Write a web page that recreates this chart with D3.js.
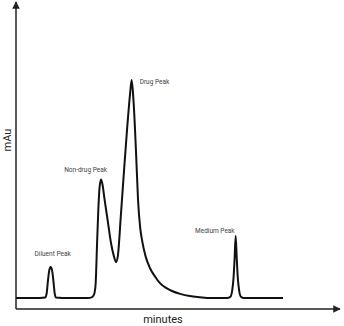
<!DOCTYPE html>
<html>
<head>
<meta charset="utf-8">
<script src="https://cdn.jsdelivr.net/npm/d3@7/dist/d3.min.js"></script>
<style>
  html, body { margin: 0; padding: 0; background: #fff; }
  svg { display: block; }
  text { font-family: Roboto, "Noto Sans", sans-serif; }
</style>
</head>
<body>
<svg id="chart" width="344" height="326"></svg>
<script>
// Chromatogram trace: retention time (min) and detector response (mAu)
const times = [0, 2.22, 2.69, 2.84, 2.95, 3.08, 3.21, 3.34, 3.47, 3.58, 3.70, 4.26,
  6.67, 7.0, 7.16, 7.28, 7.38, 7.5, 7.62, 7.73, 7.87, 8.0, 8.2, 8.5, 8.8, 9.07, 9.26,
  9.44, 9.7, 10.0, 10.3, 10.56, 10.71, 10.88, 11.11, 11.3, 11.5, 11.67, 12.0, 12.4,
  12.9, 13.33, 13.9, 14.44, 15.2, 16.1, 17.0, 18.0, 19.55, 19.85, 20.02, 20.14, 20.24,
  20.34, 20.44, 20.54, 20.66, 20.83, 21.1, 24.72];
const response = [0, 0, 0.2, 2.2, 7.5, 12.6, 14.1, 12.6, 7.5, 2.2, 0.2, 0,
  0, 0.3, 1.0, 2.6, 7, 24, 40, 50, 54, 52, 45, 35, 25, 19, 16.4,
  19.6, 37, 58, 78, 93, 99.4, 90, 67, 44.7, 32, 26.4, 19, 13.7,
  9.6, 6.8, 4.6, 3.2, 1.9, 0.9, 0.4, 0, 0, 0.6, 3.5, 9, 18,
  28.3, 18, 9, 3.5, 0.6, 0, 0];

// Named peaks: apex time and height
const peakNames = ["Diluent Peak", "Non-drug Peak", "Drug Peak", "Medium Peak"];
const peakTimes = [3.21, 7.87, 10.71, 20.34];
const peakHeights = [14.1, 54, 99.4, 28.3];

const xLabel = "minutes";
const yLabel = "mAu";

const svg = d3.select("#chart");

const x = d3.scaleLinear().domain([0, 30]).range([16, 340]);
const y = d3.scaleLinear().domain([-5, 135]).range([309, 2]);

// Arrowhead marker for the axes
svg.append("defs").append("marker")
  .attr("id", "arrow")
  .attr("viewBox", "0 0 10 10")
  .attr("refX", 9).attr("refY", 5)
  .attr("markerWidth", 5).attr("markerHeight", 5)
  .attr("markerUnits", "strokeWidth")
  .attr("orient", "auto")
  .append("path")
  .attr("d", "M0,0 L10,5 L0,10 Z")
  .attr("fill", "#222");

// Axes: plain lines with arrowheads, no ticks
const x0 = x.range()[0];
const yBottom = y.range()[0];
svg.append("line")
  .attr("x1", x0).attr("y1", yBottom)
  .attr("x2", x.range()[1]).attr("y2", yBottom)
  .attr("stroke", "#222").attr("stroke-width", 1.5)
  .attr("marker-end", "url(#arrow)");
svg.append("line")
  .attr("x1", x0).attr("y1", yBottom)
  .attr("x2", x0).attr("y2", y.range()[1])
  .attr("stroke", "#222").attr("stroke-width", 1.5)
  .attr("marker-end", "url(#arrow)");

// Signal trace
const trace = times.map((t, i) => [t, response[i]]);
svg.append("path")
  .datum(trace)
  .attr("fill", "none")
  .attr("stroke", "#111")
  .attr("stroke-width", 2)
  .attr("stroke-linejoin", "round")
  .attr("d", d3.line()
    .x(d => x(d[0]))
    .y(d => y(d[1]))
    .curve(d3.curveMonotoneX));

// Peak annotations
const labelPlacement = [
  { anchor: "middle", dx: 2, dy: -11 },
  { anchor: "end", dx: 6, dy: -8 },
  { anchor: "start", dx: 8, dy: 4 },
  { anchor: "end", dx: -1, dy: -3 }
];
svg.append("g").selectAll("text")
  .data(peakNames)
  .join("text")
  .attr("x", (d, i) => x(peakTimes[i]) + labelPlacement[i].dx)
  .attr("y", (d, i) => y(peakHeights[i]) + labelPlacement[i].dy)
  .attr("text-anchor", (d, i) => labelPlacement[i].anchor)
  .attr("font-size", 6.5)
  .attr("fill", "#444")
  .text(d => d);

// Axis titles
svg.append("text")
  .attr("x", 163).attr("y", 323)
  .attr("text-anchor", "middle")
  .attr("font-size", 11)
  .attr("fill", "#222")
  .text(xLabel);
svg.append("text")
  .attr("transform", "translate(11,140) rotate(-90)")
  .attr("text-anchor", "middle")
  .attr("font-size", 11)
  .attr("fill", "#222")
  .text(yLabel);
</script>
</body>
</html>
